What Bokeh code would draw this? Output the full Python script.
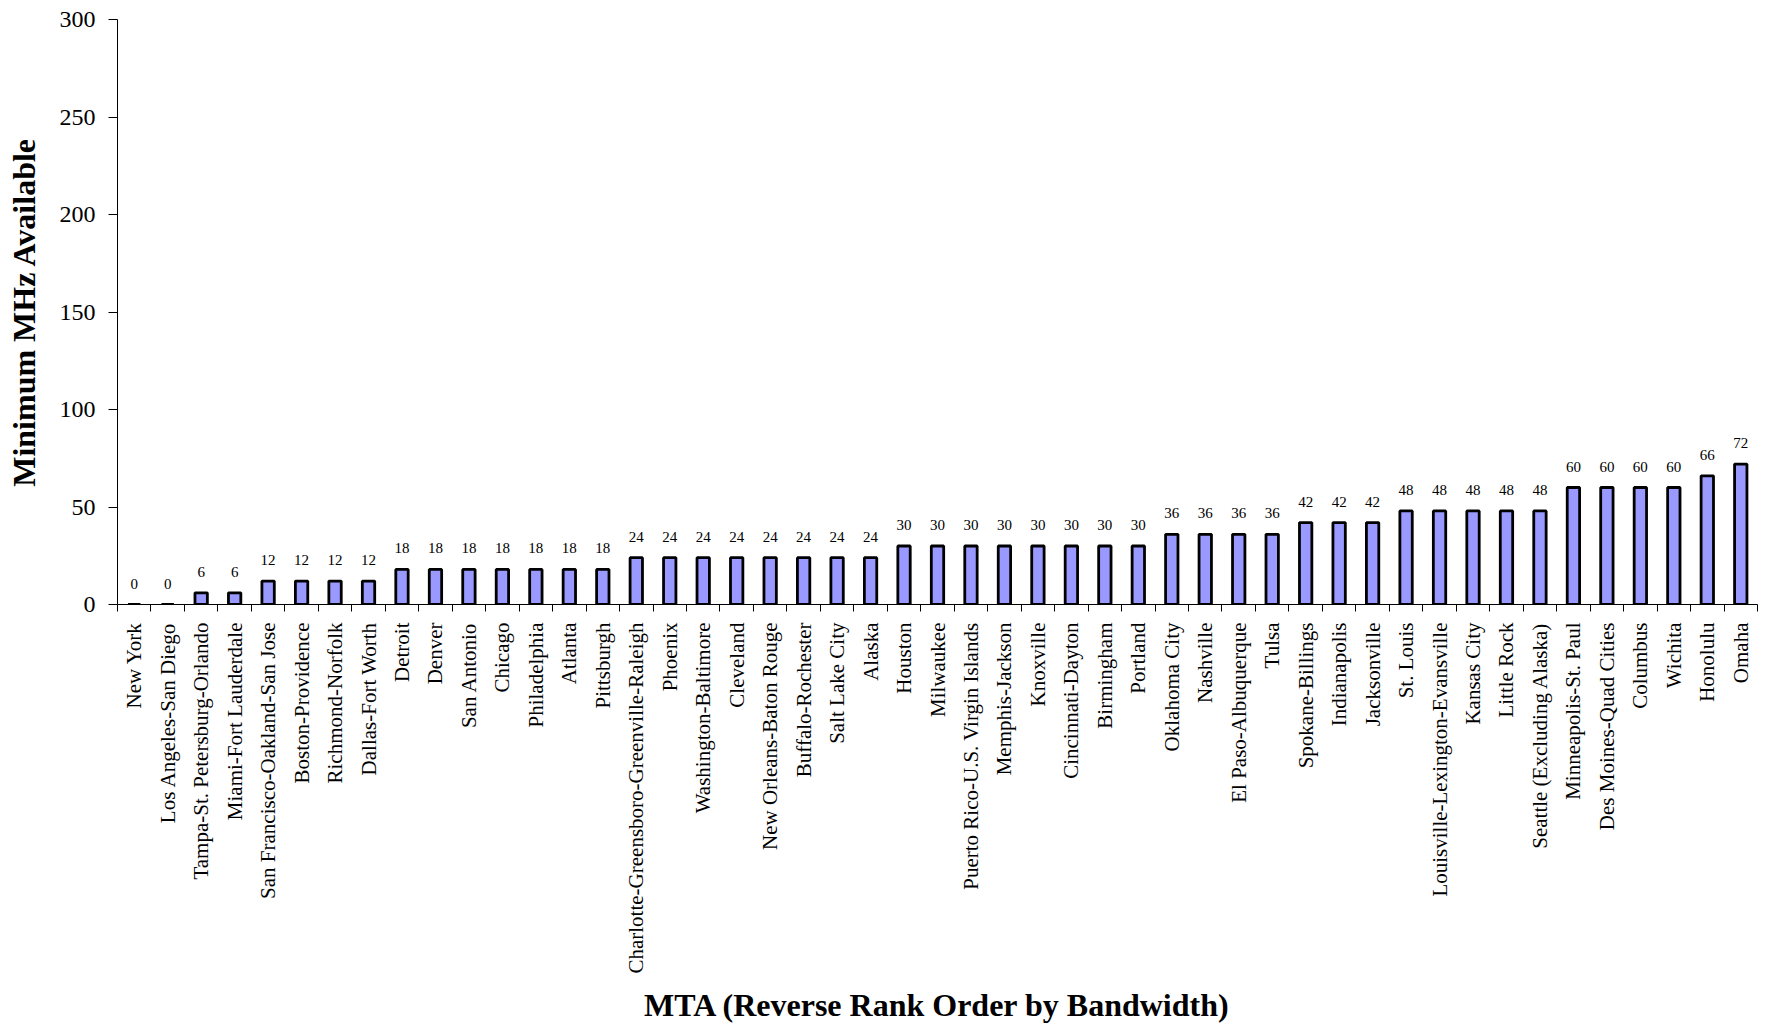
import math

from bokeh.plotting import figure
from bokeh.models import Range1d, FixedTicker, ColumnDataSource
from bokeh.core.properties import value
from bokeh.embed import file_html
from bokeh.resources import INLINE

# MTAs in reverse rank order by bandwidth
mtas = [
    "New York", "Los Angeles-San Diego", "Tampa-St. Petersburg-Orlando",
    "Miami-Fort Lauderdale", "San Francisco-Oakland-San Jose", "Boston-Providence",
    "Richmond-Norfolk", "Dallas-Fort Worth", "Detroit", "Denver", "San Antonio",
    "Chicago", "Philadelphia", "Atlanta", "Pittsburgh",
    "Charlotte-Greensboro-Greenville-Raleigh", "Phoenix", "Washington-Baltimore",
    "Cleveland", "New Orleans-Baton Rouge", "Buffalo-Rochester", "Salt Lake City",
    "Alaska", "Houston", "Milwaukee", "Puerto Rico-U.S. Virgin Islands",
    "Memphis-Jackson", "Knoxville", "Cincinnati-Dayton", "Birmingham", "Portland",
    "Oklahoma City", "Nashville", "El Paso-Albuquerque", "Tulsa", "Spokane-Billings",
    "Indianapolis", "Jacksonville", "St. Louis", "Louisville-Lexington-Evansville",
    "Kansas City", "Little Rock", "Seattle (Excluding Alaska)", "Minneapolis-St. Paul",
    "Des Moines-Quad Cities", "Columbus", "Wichita", "Honolulu", "Omaha",
]

# Minimum MHz available in each MTA
mhz = [
    0, 0, 6, 6, 12, 12, 12, 12, 18, 18, 18, 18, 18, 18, 18,
    24, 24, 24, 24, 24, 24, 24, 24,
    30, 30, 30, 30, 30, 30, 30, 30,
    36, 36, 36, 36, 42, 42, 42,
    48, 48, 48, 48, 48, 60, 60, 60, 60, 66, 72,
]

y_ticks = [0, 50, 100, 150, 200, 250, 300]

SERIF = "Liberation Serif"
n = len(mtas)
centers = [i + 0.5 for i in range(n)]

source = ColumnDataSource(dict(
    x=centers,
    mhz=mhz,
    label=[str(v) for v in mhz],
))

p = figure(
    width=1767, height=1026,
    x_range=Range1d(0, n), y_range=Range1d(0, 300),
    output_backend="svg", toolbar_location=None,
    min_border_left=117, min_border_right=10,
    min_border_top=19, min_border_bottom=422,
)
p.outline_line_color = None
p.xgrid.visible = False
p.ygrid.visible = False
p.background_fill_color = "white"
p.border_fill_color = "white"

p.vbar(x="x", top="mhz", width=0.37, bottom=0, source=source,
       fill_color="#9999FF", line_color="black", line_width=2.8)

p.text(x="x", y="mhz", text="label", source=source,
       text_font=value(SERIF), text_font_size="15px", text_color="black",
       text_align="center", text_baseline="alphabetic", y_offset=-21)

# category axis: names at bar centres, separator ticks between categories
xa = p.xaxis[0]
xa.ticker = FixedTicker(ticks=centers, minor_ticks=list(range(n + 1)))
xa.major_label_overrides = {c: name for c, name in zip(centers, mtas)}
xa.major_label_orientation = math.pi / 2
xa.major_tick_line_color = None
xa.major_tick_out = 0
xa.major_tick_in = 0
xa.minor_tick_out = 7
xa.minor_tick_in = 0
xa.minor_tick_line_color = "black"
xa.major_label_standoff = 11
xa.major_label_text_font = SERIF
xa.major_label_text_font_size = "21px"
xa.major_label_text_color = "black"
xa.axis_line_color = "black"
xa.axis_label = "MTA (Reverse Rank Order by Bandwidth)"
xa.axis_label_text_font = SERIF
xa.axis_label_text_font_size = "32px"
xa.axis_label_text_font_style = "bold"
xa.axis_label_text_color = "black"
xa.axis_label_standoff = 10

ya = p.yaxis[0]
ya.ticker = FixedTicker(ticks=y_ticks)
ya.minor_tick_line_color = None
ya.major_tick_out = 9
ya.major_tick_in = 0
ya.major_tick_line_color = "black"
ya.major_label_standoff = 13
ya.major_label_text_font = SERIF
ya.major_label_text_font_size = "24px"
ya.major_label_text_color = "black"
ya.axis_line_color = "black"
ya.axis_label = "Minimum MHz Available"
ya.axis_label_text_font = SERIF
ya.axis_label_text_font_size = "32px"
ya.axis_label_text_font_style = "bold"
ya.axis_label_text_color = "black"
ya.axis_label_standoff = 15

open("out.html", "w").write(file_html(p, INLINE))
